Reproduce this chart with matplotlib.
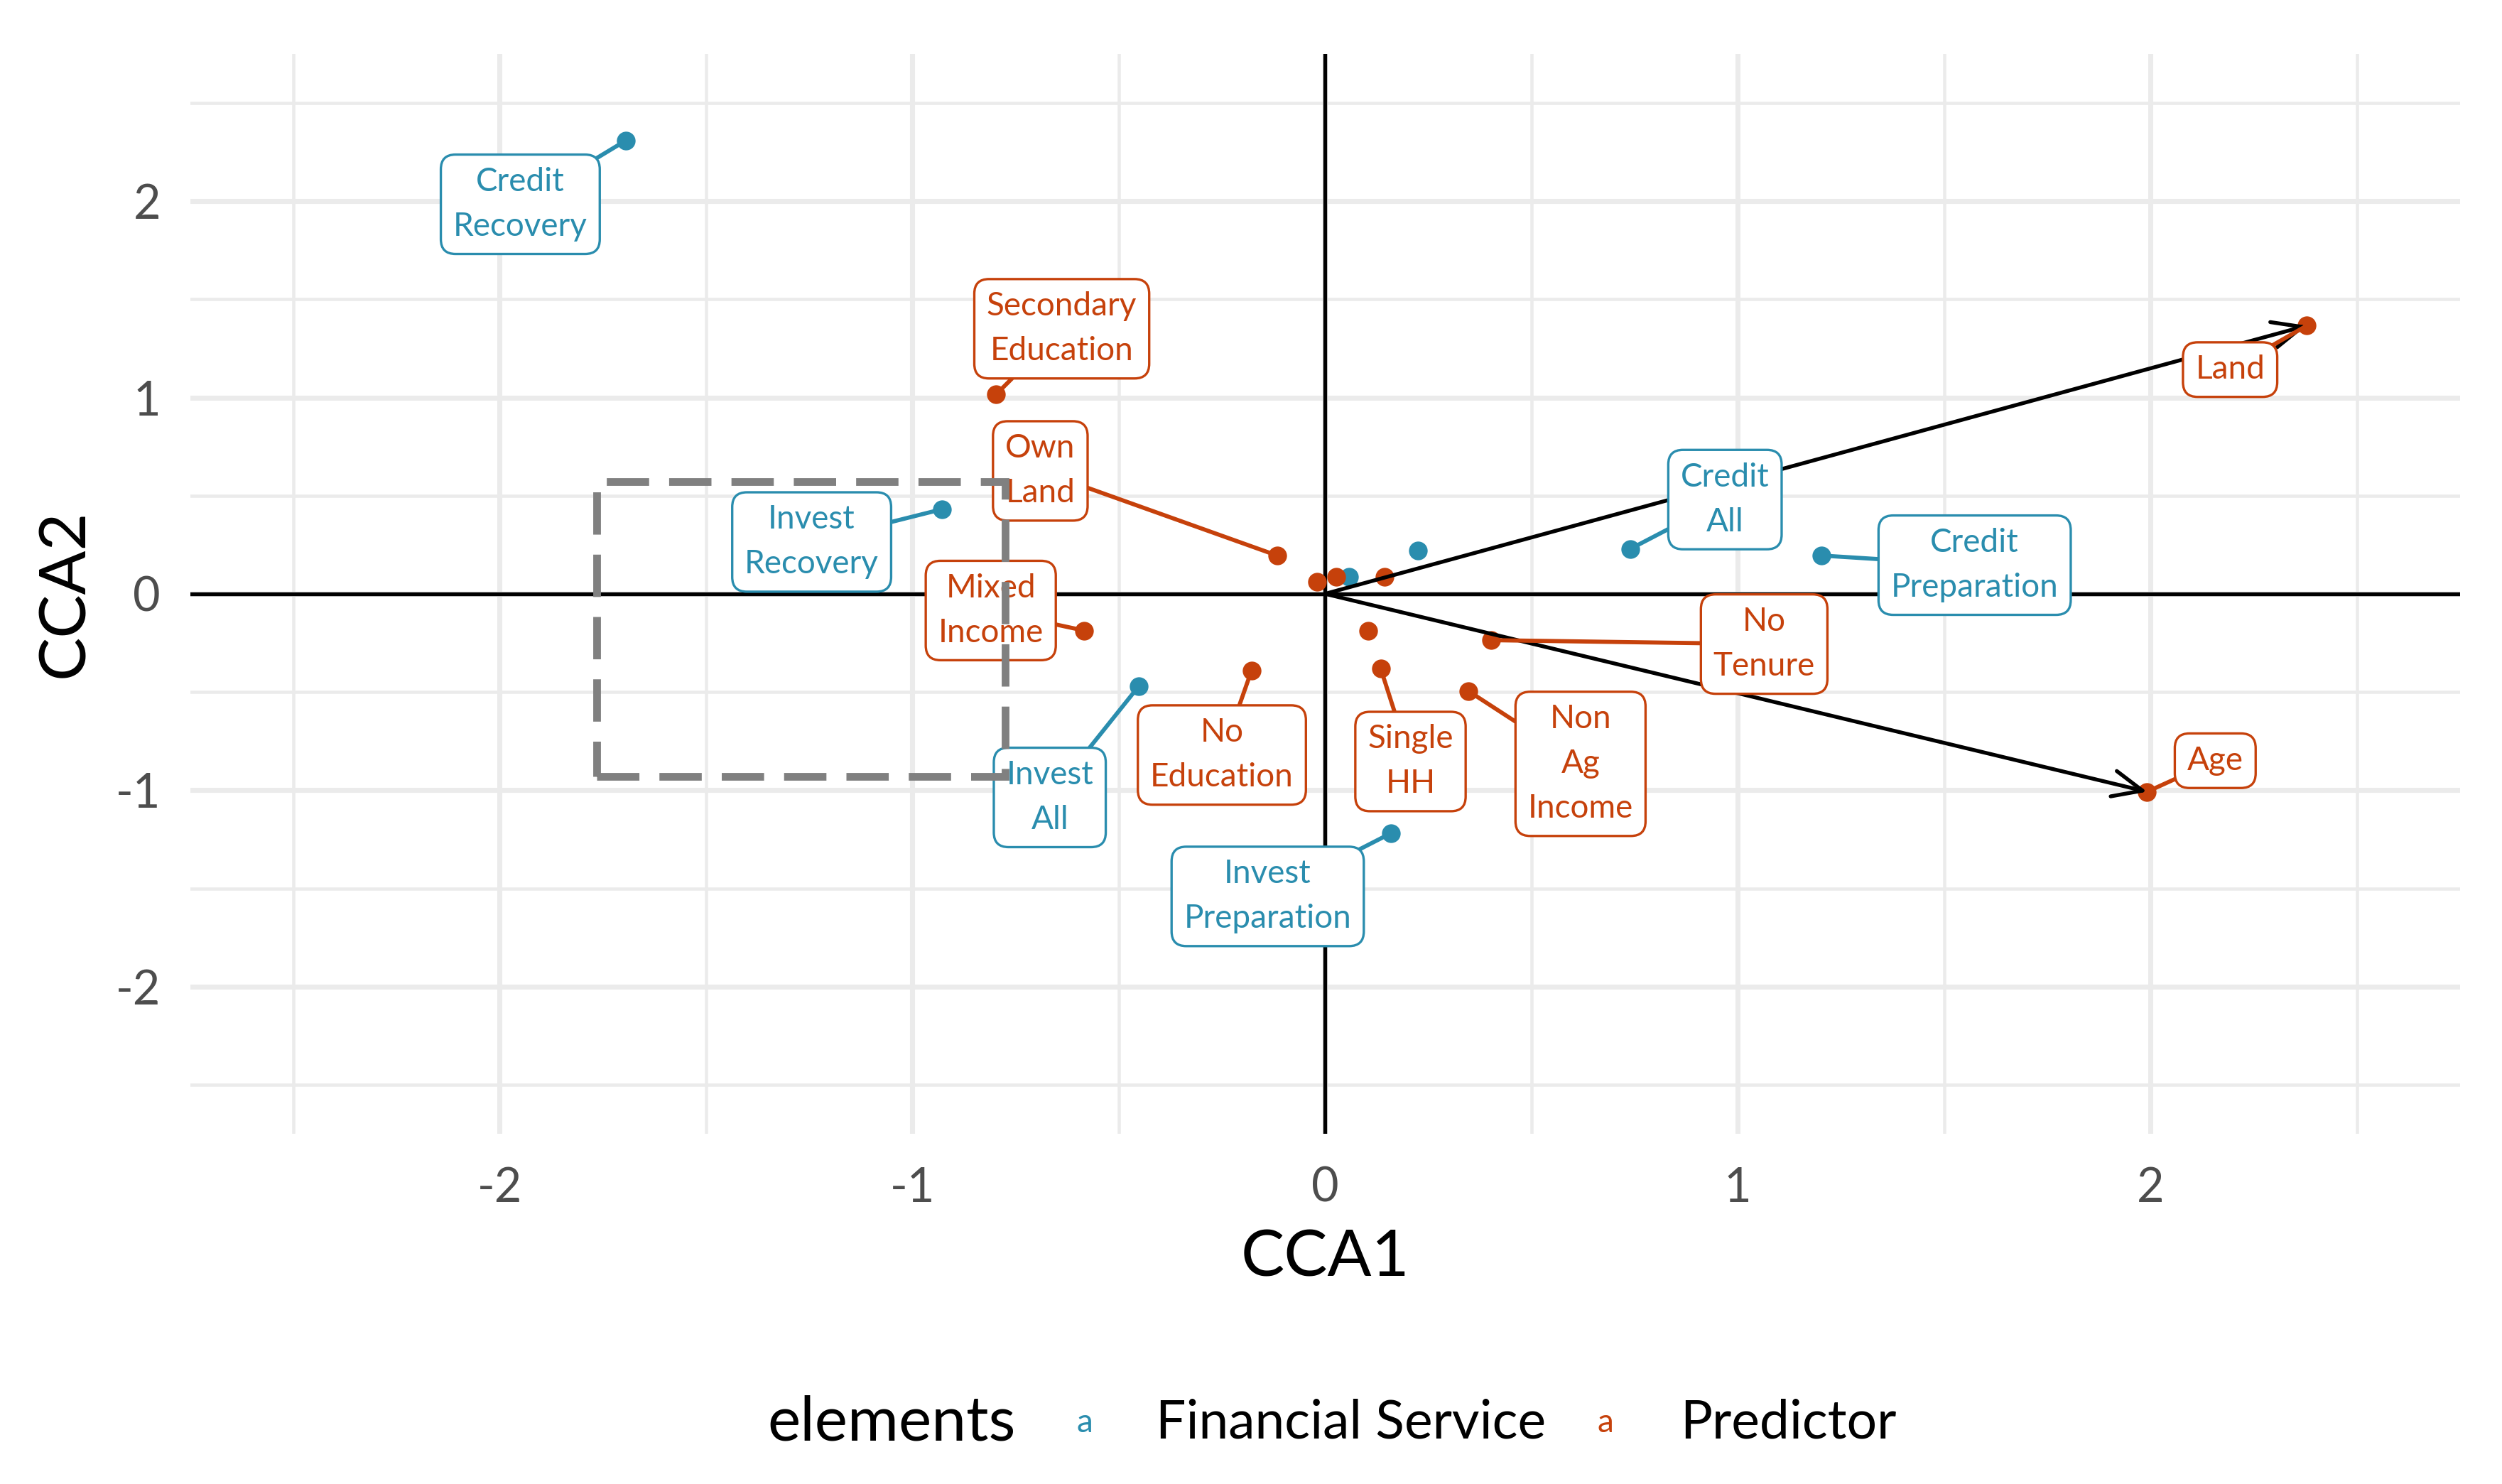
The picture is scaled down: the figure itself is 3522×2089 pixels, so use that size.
import matplotlib
matplotlib.use("Agg")
import matplotlib.pyplot as plt
from matplotlib.patches import Rectangle

# ============================================================
# DATA
# ============================================================

# financial services (site scores)
fin_names = ["Credit\nRecovery", "Invest\nRecovery", "Invest\nAll", "Invest\nPreparation",
             "Credit\nAll", "Credit\nPreparation", "", ""]
fin_x = [-1.694, -0.928, -0.452, 0.159, 0.739, 1.203, 0.225, 0.058]
fin_y = [2.309, 0.431, -0.472, -1.220, 0.228, 0.195, 0.222, 0.085]

# predictors
pred_names = ["Secondary\nEducation", "Own\nLand", "Mixed\nIncome", "No\nEducation",
              "Single\nHH", "Non\nAg\nIncome", "No\nTenure", "Land", "Age", "", "", "", ""]
pred_x = [-0.797, -0.116, -0.584, -0.178, 0.135, 0.348, 0.402, 2.379, 1.992, -0.020, 0.027, 0.144, 0.104]
pred_y = [1.016, 0.195, -0.187, -0.390, -0.382, -0.496, -0.236, 1.366, -1.008, 0.060, 0.085, 0.085, -0.190]

# biplot arrows (constraining variables)
arrow_names = ["Land", "Age"]
arrow_x = [2.379, 1.992]
arrow_y = [1.366, -1.008]

# label placement (repelled label centres, data units)
fin_lab_x = [-1.950, -1.244, -0.667, -0.139, 0.969, 1.574, None, None]
fin_lab_y = [1.984, 0.264, -1.037, -1.541, 0.480, 0.146, None, None]
pred_lab_x = [-0.638, -0.690, -0.810, -0.250, 0.207, 0.619, 1.064, 2.193, 2.157, None, None, None, None]
pred_lab_y = [1.350, 0.626, -0.085, -0.821, -0.854, -0.866, -0.256, 1.142, -0.850, None, None, None, None]

# highlighted region (dashed box)
BOX_X = (-1.765, -0.775)
BOX_Y = (-0.929, 0.570)

# ============================================================
# STYLE
# ============================================================

TEAL = "#2A8DAE"
RED = "#C6410B"
GRID = "#EBEBEB"
FONT = "Lato"

plt.rcParams["font.family"] = [FONT, "DejaVu Sans"]

fig = plt.figure(figsize=(3522 / 300, 2089 / 300), dpi=300)
ax = fig.add_axes([0.0760, 0.2360, 0.9072, 0.7277])

ax.set_xlim(-2.75, 2.75)
ax.set_ylim(-2.75, 2.75)

# grid like theme_minimal
ax.set_xticks([-2, -1, 0, 1, 2])
ax.set_yticks([-2, -1, 0, 1, 2])
ax.set_xticks([-2.5, -1.5, -0.5, 0.5, 1.5, 2.5], minor=True)
ax.set_yticks([-2.5, -1.5, -0.5, 0.5, 1.5, 2.5], minor=True)
ax.grid(True, which="major", color=GRID, lw=1.7, zorder=0)
ax.grid(True, which="minor", color=GRID, lw=1.1, zorder=0)
ax.set_axisbelow(True)
for s in ax.spines.values():
    s.set_visible(False)
ax.tick_params(which="both", length=0)
ax.tick_params(axis="x", pad=11, labelsize=16, labelcolor="#4D4D4D")
ax.tick_params(axis="y", pad=10, labelsize=16, labelcolor="#4D4D4D")
ax.set_xticklabels(["-2", "-1", "0", "1", "2"])
ax.set_yticklabels(["-2", "-1", "0", "1", "2"])

# zero lines
ax.axhline(0, color="black", lw=1.3, zorder=1)
ax.axvline(0, color="black", lw=1.3, zorder=1)

# points
ax.scatter(fin_x, fin_y, s=40, color=TEAL, zorder=3, linewidths=0)
ax.scatter(pred_x, pred_y, s=40, color=RED, zorder=3, linewidths=0)

# biplot arrows
for name, x, y in zip(arrow_names, arrow_x, arrow_y):
    ax.annotate("", xy=(x, y), xytext=(0, 0),
                arrowprops=dict(arrowstyle="->,head_length=0.5,head_width=0.22",
                                color="black", lw=1.3, mutation_scale=20,
                                shrinkA=0, shrinkB=0),
                zorder=4)


def add_labels(names, xs, ys, lxs, lys, color):
    for name, x, y, lx, ly in zip(names, xs, ys, lxs, lys):
        if not name:
            continue
        ax.annotate(name, xy=(x, y), xytext=(lx, ly), textcoords="data",
                    ha="center", va="center", fontsize=11, color=color,
                    linespacing=1.62, zorder=6,
                    bbox=dict(boxstyle="round,pad=0.38,rounding_size=0.45",
                              fc="white", ec=color, lw=0.8),
                    arrowprops=dict(arrowstyle="-", color=color, lw=1.4,
                                    shrinkA=0, shrinkB=0))


add_labels(fin_names, fin_x, fin_y, fin_lab_x, fin_lab_y, TEAL)
add_labels(pred_names, pred_x, pred_y, pred_lab_x, pred_lab_y, RED)

# dashed highlight box
ax.add_patch(Rectangle((BOX_X[0], BOX_Y[0]), BOX_X[1] - BOX_X[0], BOX_Y[1] - BOX_Y[0],
                       fill=False, ec="#808080", lw=2.6, ls=(0, (5.5, 2.6)), zorder=7))

# axis titles
fig.text(0.5297, 0.152, "CCA1", ha="center", va="center", fontsize=22, color="black")
fig.text(0.026, 0.600, "CCA2", ha="center", va="center", fontsize=22, color="black",
         rotation=90)

# legend (ggplot-style, bottom, horizontal)
fig.text(0.3067, 0.041, "elements", ha="left", va="center", fontsize=21, color="black")
fig.text(0.4335, 0.041, "a", ha="center", va="center", fontsize=11, color=TEAL)
fig.text(0.4620, 0.041, "Financial Service", ha="left", va="center", fontsize=18, color="black")
fig.text(0.6417, 0.041, "a", ha="center", va="center", fontsize=11, color=RED)
fig.text(0.6715, 0.041, "Predictor", ha="left", va="center", fontsize=18, color="black")

fig.savefig("out.png", dpi=300)
